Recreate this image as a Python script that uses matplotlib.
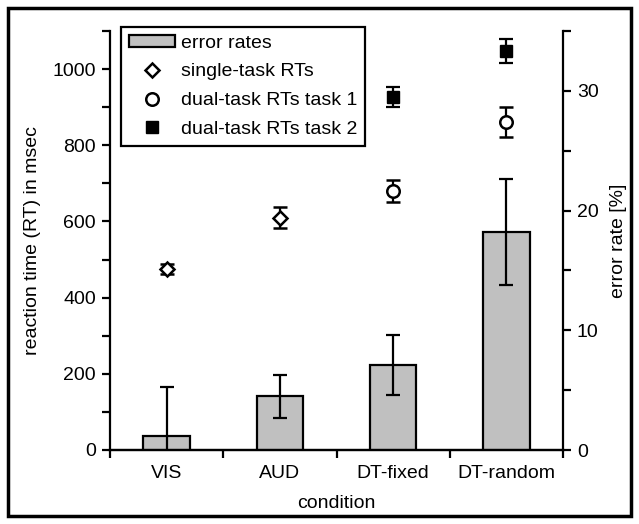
import matplotlib.pyplot as plt
import numpy as np
from matplotlib.patches import Rectangle
from matplotlib.lines import Line2D

plt.rcParams['font.family'] = ['Liberation Sans', 'DejaVu Sans']

conditions = ["VIS", "AUD", "DT-fixed", "DT-random"]
err_rate = [1.2, 4.5, 7.1, 18.2]
err_rate_sd = [4.1, 1.8, 2.5, 4.4]

single_x = [0, 1]
single_rt = [475, 610]
single_sd = [12, 28]

dual_x = [2, 3]
dual1_rt = [680, 861]
dual1_sd = [28, 39]
dual2_rt = [927, 1047]
dual2_sd = [27, 31]

fig = plt.figure(figsize=(6.39, 5.24), dpi=100)
ax = fig.add_axes([110/639, 1 - 450/524, 453/639, 419/524])
ax2 = ax.twinx()

lw = 1.6
fs = 14

# error rates (right axis)
x = np.arange(len(conditions))
ax2.bar(x, err_rate, width=0.41, color="#c0c0c0", edgecolor="black", linewidth=lw, zorder=2)
ax2.errorbar(x, err_rate, yerr=err_rate_sd, fmt="none", ecolor="black",
             elinewidth=lw, capsize=5, capthick=lw, zorder=3)

# reaction times (left axis)
ax.errorbar(single_x, single_rt, yerr=single_sd, fmt="D", ms=7, mfc="white", mec="black",
            mew=1.8, ecolor="black", elinewidth=lw, capsize=5, capthick=lw)
ax.errorbar(dual_x, dual1_rt, yerr=dual1_sd, fmt="o", ms=9, mfc="white", mec="black",
            mew=1.8, ecolor="black", elinewidth=lw, capsize=5, capthick=lw)
ax.errorbar(dual_x, dual2_rt, yerr=dual2_sd, fmt="s", ms=9, mfc="black", mec="black",
            ecolor="black", elinewidth=lw, capsize=5, capthick=lw)

ax.set_xlim(-0.5, 3.5)
ax.set_ylim(0, 1100)
ax2.set_ylim(0, 35)

ax.set_yticks([0, 200, 400, 600, 800, 1000])
ax.set_yticks(np.arange(100, 1101, 200), minor=True)
ax2.set_yticks([0, 10, 20, 30])
ax2.set_yticks([5, 15, 25, 35], minor=True)

ax.set_xticks([-0.5, 0.5, 1.5, 2.5, 3.5])
ax.set_xticklabels([])
ax.set_xticks(x, minor=True)
ax.set_xticklabels(conditions, minor=True)
ax.tick_params(axis="x", which="minor", length=0, pad=11, labelsize=fs)
ax.tick_params(axis="x", which="major", length=6, width=lw, direction="out")
ax.tick_params(axis="y", which="both", length=6, width=lw, labelsize=fs, pad=4)
ax2.tick_params(axis="y", which="both", length=6, width=lw, labelsize=fs, pad=4)

for a in (ax, ax2):
    a.spines["top"].set_visible(False)
    for s in a.spines.values():
        s.set_linewidth(lw)
ax.spines["right"].set_visible(False)
ax2.spines["left"].set_visible(False)

ax.set_xlabel("condition", fontsize=fs, labelpad=9)
ax.set_ylabel("reaction time (RT) in msec", fontsize=fs, labelpad=8)
ax2.set_ylabel("error rate [%]", fontsize=fs, labelpad=8)

handles = [
    Rectangle((0, 0), 1, 1, facecolor="#c0c0c0", edgecolor="black", linewidth=lw),
    Line2D([], [], ls="none", marker="D", ms=7, mfc="white", mec="black", mew=1.8),
    Line2D([], [], ls="none", marker="o", ms=9, mfc="white", mec="black", mew=1.8),
    Line2D([], [], ls="none", marker="s", ms=9, mfc="black", mec="black"),
]
labels = ["error rates", "single-task RTs", "dual-task RTs task 1", "dual-task RTs task 2"]
leg = ax2.legend(handles, labels, loc="upper left", bbox_to_anchor=(121/639, 1 - 27/524),
                 bbox_transform=fig.transFigure, borderaxespad=0, fontsize=fs,
                 handlelength=2.4, handleheight=0.55, handletextpad=0.3,
                 labelspacing=0.6, borderpad=0.4, fancybox=False, framealpha=1,
                 edgecolor="black")
leg.get_frame().set_linewidth(lw)
leg.set_zorder(10)

fig.patches.append(Rectangle((8/639, 8/524), 623/639, 508/524, transform=fig.transFigure,
                             fill=False, edgecolor="black", linewidth=2.5))

fig.savefig("out.png", dpi=100)
